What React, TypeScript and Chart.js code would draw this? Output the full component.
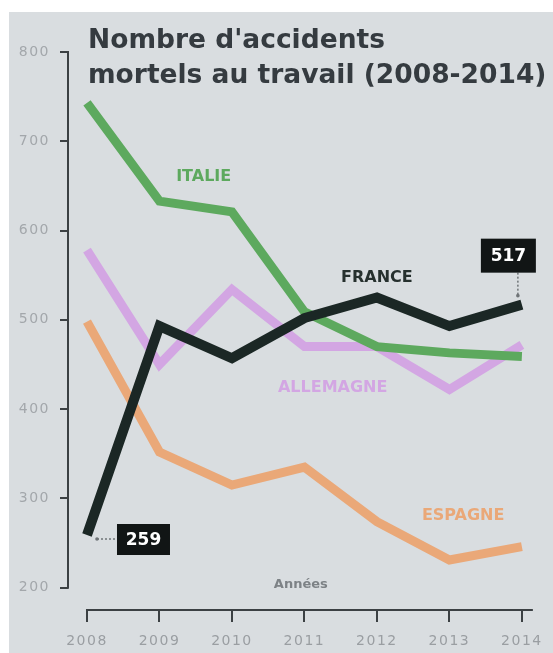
import React, { useEffect, useRef } from "react";
import { Chart, registerables } from "chart.js";

Chart.register(...registerables);

const years = [2008, 2009, 2010, 2011, 2012, 2013, 2014];
const italie = [743, 633, 621, 509, 470, 463, 459];
const france = [259, 493, 457, 502, 525, 493, 517];
const allemagne = [578, 450, 534, 470, 470, 422, 472];
const espagne = [498, 352, 315, 335, 274, 231, 246];
const yTicks = [200, 300, 400, 500, 600, 700, 800];

const titleLines = ["Nombre d'accidents", "mortels au travail (2008-2014)"];
const seriesNames = ["FRANCE", "ITALIE", "ALLEMAGNE", "ESPAGNE"];
const axisTitle = "Années";

const BG = "#d9dde0";
const AXIS = "#3b4043";
const GREEN = "#5da95e";
const BLACK = "#1b2725";
const PURPLE = "#d3a6e3";
const ORANGE = "#eaa878";

const toXY = (vals: number[]) => vals.map((v, i) => ({ x: years[i], y: v }));

const overlay = {
  id: "overlay",
  beforeDraw(chart: any) {
    try {
      (chart.ctx as any).letterSpacing = "1.5px";
    } catch (e) {}
  },
  beforeDatasetsDraw(chart: any) {
    const { ctx, chartArea, scales } = chart;
    try {
      (ctx as any).letterSpacing = "0px";
    } catch (e) {}
    const x = scales.x;
    const y = scales.y;
    ctx.save();
    ctx.strokeStyle = AXIS;
    ctx.lineWidth = 2;
    // y axis line
    ctx.beginPath();
    ctx.moveTo(chartArea.left, y.getPixelForValue(800) - 1);
    ctx.lineTo(chartArea.left, y.getPixelForValue(200) + 1);
    ctx.stroke();
    // x axis line
    ctx.beginPath();
    ctx.moveTo(x.getPixelForValue(2008) - 1, chartArea.bottom);
    ctx.lineTo(x.getPixelForValue(2014) + 11, chartArea.bottom);
    ctx.stroke();
    ctx.restore();
  },
  afterDatasetsDraw(chart: any) {
    const { ctx, scales } = chart;
    const x = scales.x;
    const y = scales.y;
    ctx.save();
    try {
      (ctx as any).letterSpacing = "0px";
    } catch (e) {}
    // title
    ctx.fillStyle = "#353b40";
    ctx.font = 'bold 26.5px "DejaVu Sans"';
    ctx.textAlign = "left";
    ctx.textBaseline = "alphabetic";
    ctx.fillText(titleLines[0], 79, 36);
    ctx.fillText(titleLines[1], 79, 71);

    // series labels
    ctx.font = 'bold 16px "DejaVu Sans"';
    ctx.textAlign = "center";
    ctx.textBaseline = "middle";
    const lab = (t: string, c: string, xv: number, yv: number) => {
      ctx.fillStyle = c;
      ctx.fillText(t, x.getPixelForValue(xv), y.getPixelForValue(yv));
    };
    lab(seriesNames[1], GREEN, 2009.61, 660);
    lab(seriesNames[0], "#26302e", 2012.0, 547);
    lab(seriesNames[2], PURPLE, 2011.39, 424);
    lab(seriesNames[3], ORANGE, 2013.19, 281);
    ctx.font = 'bold 13px "DejaVu Sans"';
    lab(axisTitle, "#7d8286", 2010.95, 203);

    // value boxes
    const box = (bx: number, by: number, w: number, h: number, t: string) => {
      ctx.fillStyle = "#111515";
      ctx.fillRect(bx, by, w, h);
      ctx.fillStyle = "#ffffff";
      ctx.font = 'bold 17px "DejaVu Sans"';
      ctx.textAlign = "center";
      ctx.textBaseline = "middle";
      ctx.fillText(t, bx + w / 2, by + h / 2 + 1);
    };
    ctx.strokeStyle = "#6f7477";
    ctx.lineWidth = 1.5;
    ctx.setLineDash([2, 2]);
    // 2014
    const p1x = x.getPixelForValue(2014);
    const p1y = y.getPixelForValue(france[6]);
    ctx.beginPath();
    ctx.moveTo(p1x - 4, p1y - 32);
    ctx.lineTo(p1x - 4, p1y - 10);
    ctx.stroke();
    // 2008
    const p0x = x.getPixelForValue(2008);
    const p0y = y.getPixelForValue(france[0]);
    ctx.beginPath();
    ctx.moveTo(p0x + 10, p0y + 4);
    ctx.lineTo(p0x + 30, p0y + 4);
    ctx.stroke();
    ctx.setLineDash([]);
    ctx.fillStyle = "#6f7477";
    ctx.beginPath();
    ctx.arc(p1x - 4, p1y - 9, 1.8, 0, Math.PI * 2);
    ctx.fill();
    ctx.beginPath();
    ctx.arc(p0x + 10, p0y + 4, 1.8, 0, Math.PI * 2);
    ctx.fill();
    box(p1x - 41, p1y - 66, 55, 34, String(france[6]));
    box(p0x + 30, p0y - 11, 53, 31, String(france[0]));
    ctx.restore();
  },
};

export default function App() {
  const ref = useRef<HTMLCanvasElement>(null);
  useEffect(() => {
    if (!ref.current) return;
    const line = (data: number[], color: string, w: number) => ({
      data: toXY(data),
      borderColor: color,
      backgroundColor: color,
      borderWidth: w,
      pointRadius: 0,
      tension: 0,
      fill: false,
    });
    const chart = new Chart(ref.current, {
      type: "line",
      data: {
        datasets: [
          { label: seriesNames[0], ...line(france, BLACK, 10) },
          { label: seriesNames[1], ...line(italie, GREEN, 9) },
          { label: seriesNames[2], ...line(allemagne, PURPLE, 9) },
          { label: seriesNames[3], ...line(espagne, ORANGE, 9) },
        ],
      },
      options: {
        animation: false,
        responsive: true,
        maintainAspectRatio: false,
        layout: { padding: { top: 40, right: 13, left: 0, bottom: 0 } },
        plugins: { legend: { display: false }, tooltip: { enabled: false } },
        scales: {
          x: {
            type: "linear",
            min: 2007.738,
            max: 2014.25,
            afterBuildTicks: (s: any) => {
              s.ticks = years.map((v) => ({ value: v }));
            },
            afterFit: (s: any) => {
              s.height = 43;
            },
            border: { display: false },
            grid: {
              drawOnChartArea: false,
              drawTicks: true,
              tickLength: 12,
              color: AXIS,
              lineWidth: 2,
            },
            ticks: {
              callback: (v: any) => String(v),
              color: "#9a9ea2",
              font: { family: "DejaVu Sans", size: 14 },
              padding: 11,
              maxRotation: 0,
              autoSkip: false,
            },
          },
          y: {
            type: "linear",
            min: 175,
            max: 800,
            afterBuildTicks: (s: any) => {
              s.ticks = yTicks.map((v) => ({ value: v }));
            },
            afterFit: (s: any) => {
              s.width = 59;
            },
            border: { display: false },
            grid: {
              drawOnChartArea: false,
              drawTicks: true,
              tickLength: 8,
              color: AXIS,
              lineWidth: 2,
            },
            ticks: {
              callback: (v: any) => String(v),
              color: "#a3a7ab",
              font: { family: "DejaVu Sans", size: 14 },
              padding: 10,
            },
          },
        },
      },
      plugins: [overlay],
    });
    return () => chart.destroy();
  }, []);
  return (
    <div
      style={{
        position: "absolute",
        left: 9,
        top: 12,
        width: 544,
        height: 641,
        background: BG,
      }}
    >
      <canvas ref={ref} />
    </div>
  );
}
